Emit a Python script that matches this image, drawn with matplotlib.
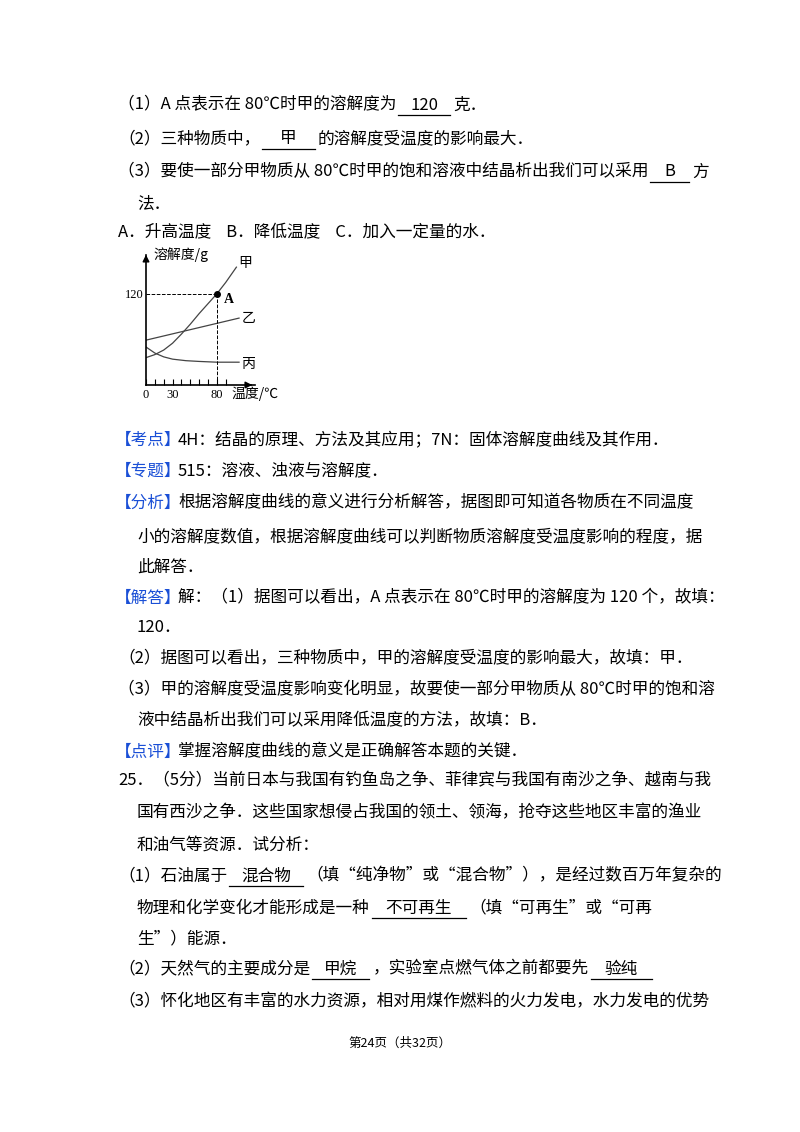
import matplotlib.pyplot as plt
from matplotlib.lines import Line2D

plt.rcParams['font.family'] = ['Noto Sans CJK SC', 'DejaVu Sans']

# chart data
jia_x = [0, 10, 20, 30, 40, 50, 60, 70, 80, 90, 102]
jia_y = [36, 40, 46, 55, 67, 80, 94, 107, 120, 135, 155]
yi_x = [0, 105]
yi_y = [59, 88]
bing_x = [0, 10, 20, 30, 45, 60, 80, 105]
bing_y = [50, 42, 37, 34, 32, 31, 30, 30]

W, H = 800, 1132
fig = plt.figure(figsize=(8, 11.32), dpi=100)
rend = fig.canvas.get_renderer()
BLUE = '#1a4fd6'
FS = 12


def t(x, y, s, c='black', **kw):
    txt = fig.text(x / W, 1 - y / H, s, color=c, fontsize=FS, va='center', ha='left', **kw)
    return x + txt.get_window_extent(rend).width


def ul(x0, x1, y):
    fig.add_artist(Line2D([x0 / W, x1 / W], [1 - (y + 10) / H, 1 - (y + 10) / H], color='black', lw=0.9))


def line(x, y, parts):
    # parts: plain strings, or (text, left pad, right pad) for underlined answers
    for p in parts:
        if isinstance(p, str):
            x = t(x, y, p)
        else:
            s, a, b = p
            x0 = x + 2
            x = t(x0 + a, y, s)
            ul(x0, x + b, y)
            x = x + b + 3
    return x


line(118, 105, ['（1）A 点表示在 80℃时甲的溶解度为', ('120', 12, 12), '克．'])
line(118, 139, ['（2）三种物质中，', ('甲', 18, 18), '的溶解度受温度的影响最大．'])
line(118, 172, ['（3）要使一部分甲物质从 80℃时甲的饱和溶液中结晶析出我们可以采用', ('B', 14, 14), '方'])
t(137, 204, '法．')
t(118, 233, 'A．升高温度    B．降低温度    C．加入一定量的水．')

t(178, 440, '4H：结晶的原理、方法及其应用；7N：固体溶解度曲线及其作用．')
t(115, 440, '【考点】', BLUE)
t(115, 471, '【专题】', BLUE); t(178, 471, '515：溶液、浊液与溶解度．')
t(115, 503, '【分析】', BLUE); t(178, 503, '根据溶解度曲线的意义进行分析解答，据图即可知道各物质在不同温度')
t(137, 537, '小的溶解度数值，根据溶解度曲线可以判断物质溶解度受温度影响的程度，据')
t(137, 567, '此解答．')
t(115, 598, '【解答】', BLUE); t(178, 598, '解：（1）据图可以看出，A 点表示在 80℃时甲的溶解度为 120 个，故填：')
t(137, 628, '120．')
t(118, 659, '（2）据图可以看出，三种物质中，甲的溶解度受温度的影响最大，故填：甲．')
t(118, 690, '（3）甲的溶解度受温度影响变化明显，故要使一部分甲物质从 80℃时甲的饱和溶')
t(137, 721, '液中结晶析出我们可以采用降低温度的方法，故填：B．')
t(115, 752, '【点评】', BLUE); t(178, 752, '掌握溶解度曲线的意义是正确解答本题的关键．')
t(118, 781, '25．（5分）当前日本与我国有钓鱼岛之争、菲律宾与我国有南沙之争、越南与我')
t(137, 813, '国有西沙之争．这些国家想侵占我国的领土、领海，抢夺这些地区丰富的渔业')
t(137, 845, '和油气等资源．试分析：')
line(118, 876, ['（1）石油属于', ('混合物', 12, 12), '（填“纯净物”或“混合物”），是经过数百万年复杂的'])
line(137, 908, ['物理和化学变化才能形成是一种', ('不可再生', 14, 14), '（填“可再生”或“可再'])
t(137, 939, '生”）能源．')
line(118, 969, ['（2）天然气的主要成分是', ('甲烷', 12, 12), '，实验室点燃气体之前都要先', ('验纯', 14, 14)])
t(118, 1002, '（3）怀化地区有丰富的水力资源，相对用煤作燃料的火力发电，水力发电的优势')
fig.text(400 / W, 1 - 1043 / H, '第24页（共32页）', fontsize=9, ha='center', va='center')

# small chart
ax = fig.add_axes([146 / W, 1 - 385 / H, 109 / W, 130 / H])
ax.set_xlim(0, 123)
ax.set_ylim(0, 171)
ax.plot(jia_x, jia_y, color='#444', lw=0.9)
ax.plot(yi_x, yi_y, color='#444', lw=0.9)
ax.plot(bing_x, bing_y, color='#444', lw=0.9)
ax.plot([80], [120], 'o', color='black', ms=4)
ax.plot([0, 80], [120, 120], '--', color='black', lw=0.7)
ax.plot([80, 80], [0, 120], '--', color='black', lw=0.7)
for s in ['top', 'right']:
    ax.spines[s].set_visible(False)
ax.spines['left'].set_linewidth(1.2)
ax.spines['bottom'].set_linewidth(1.2)
ax.annotate('', xy=(123, 0), xytext=(115, 0), arrowprops=dict(arrowstyle='-|>', color='black', lw=1), annotation_clip=False)
ax.annotate('', xy=(0, 175), xytext=(0, 160), arrowprops=dict(arrowstyle='-|>', color='black', lw=1), annotation_clip=False)
ax.set_xticks([0, 10, 20, 30, 40, 50, 60, 70, 80, 90])
ax.set_xticklabels(['0', '', '', '30', '', '', '', '', '80', ''], fontsize=9, family='Liberation Serif')
ax.set_yticks([120])
ax.set_yticklabels(['120'], fontsize=9, family='Liberation Serif')
ax.tick_params(axis='x', direction='in', length=4, pad=3)
ax.tick_params(axis='y', length=0, pad=2)
ax.text(9, 171, '溶解度/g', fontsize=10, va='center')
ax.text(96, -12, '温度/℃', fontsize=10, va='center', clip_on=False)
ax.text(104, 160, '甲', fontsize=10, va='center', clip_on=False)
ax.text(88, 112, 'A', fontsize=10, va='center', family='Liberation Serif', fontweight='bold')
ax.text(108, 88, '乙', fontsize=10, va='center', clip_on=False)
ax.text(108, 28, '丙', fontsize=10, va='center', clip_on=False)
ax.patch.set_alpha(0)

fig.savefig('out.png', dpi=100)
